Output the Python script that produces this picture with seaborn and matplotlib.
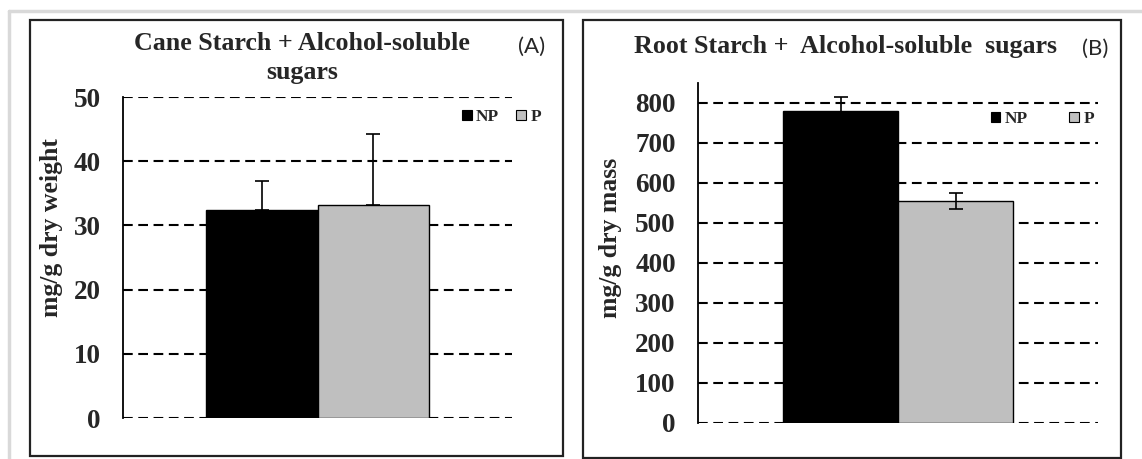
import matplotlib
matplotlib.use("Agg")
import matplotlib.pyplot as plt
import seaborn as sns
import pandas as pd
import numpy as np
from matplotlib.patches import Rectangle, Patch
from matplotlib.lines import Line2D

# ---------------- data ----------------
treatments = ["NP", "P"]
colors = ["#000000", "#bfbfbf"]

cane_values = [32.4, 33.1]
cane_err_up = [4.5, 11.2]

root_values = [780, 556]
root_err = [35, 20]

cane_ticks = [0, 10, 20, 30, 40, 50]
root_ticks = [0, 100, 200, 300, 400, 500, 600, 700, 800]

sns.set_style("white")
plt.rcParams["font.family"] = ["Liberation Serif", "DejaVu Serif"]
plt.rcParams["font.weight"] = "bold"
plt.rcParams["lines.scale_dashes"] = False

W, H = 1142, 459
fig = plt.figure(figsize=(W / 100, H / 100), dpi=100)

def fx(px):
    return px / W

def fy(py):
    return 1 - py / H

# light grey outer frame (top and left)
fig.add_artist(Line2D([fx(9), fx(9)], [fy(11), 0], color="#d9d9d9", lw=2.5, transform=fig.transFigure))
fig.add_artist(Line2D([fx(9), 1], [fy(11), fy(11)], color="#d9d9d9", lw=2.5, transform=fig.transFigure))

# panel boxes
for x0, x1, y0, y1 in [(30, 563, 20, 456), (583, 1121, 20, 458)]:
    fig.add_artist(Rectangle((fx(x0), fy(y1)), fx(x1) - fx(x0), fy(y0) - fy(y1),
                             fill=False, edgecolor="#222222", lw=1.6,
                             transform=fig.transFigure))

def make_panel(rect, values, ylim, ticks, ylabel, label_xy, err_lower, err_upper,
               bar_width, legend_anchor, colspacing):
    ax = fig.add_axes(rect)
    df = pd.DataFrame({"grp": [""] * len(treatments), "trt": treatments, "val": values})
    sns.barplot(data=df, x="grp", y="val", hue="trt", hue_order=treatments,
                palette=dict(zip(treatments, colors)), edgecolor="black",
                linewidth=1.0, width=bar_width, errorbar=None, saturation=1,
                ax=ax, legend=False, zorder=3)
    bars = [p for p in ax.patches if isinstance(p, Rectangle)][:len(treatments)]
    xs = [b.get_x() + b.get_width() / 2 for b in bars]
    hs = [b.get_height() for b in bars]
    ax.errorbar(xs, hs, yerr=[err_lower, err_upper], fmt="none", ecolor="black",
                elinewidth=1.2, capsize=5, capthick=1.2, zorder=4)
    ax.set_ylim(*ylim)
    ax.set_xlim(-0.5, 0.5)
    ax.set_yticks(ticks)
    ax.set_yticklabels([str(t) for t in ticks], fontsize=19.5, fontweight="bold")
    ax.tick_params(axis="y", length=0, pad=16)
    ax.set_xticks([])
    ax.set_xlabel("")
    ax.yaxis.grid(True, color="black", lw=1.5, linestyle=(0, (7, 4)))
    ax.set_axisbelow(True)
    for s in ["top", "right", "bottom"]:
        ax.spines[s].set_visible(False)
    ax.spines["left"].set_color("black")
    ax.spines["left"].set_linewidth(1.3)
    ax.set_ylabel(ylabel, fontsize=18.5, fontweight="bold", va="center")
    ax.yaxis.set_label_coords(*label_xy)
    handles = [Patch(facecolor=c, edgecolor="black", lw=0.8) for c in colors]
    ax.legend(handles, treatments, ncol=2, loc="center right",
              bbox_to_anchor=legend_anchor, bbox_transform=fig.transFigure,
              frameon=False, prop={"family": "Liberation Serif", "weight": "bold", "size": 12.5},
              handlelength=0.55, handleheight=0.55, handletextpad=0.25,
              columnspacing=colspacing, borderaxespad=0, borderpad=0)
    return ax

# Panel A
axA = make_panel([fx(123), fy(418), fx(512) - fx(123), fy(97) - fy(418)],
                 cane_values, (0, 50), cane_ticks, "mg/g dry weight",
                 (-0.185, 0.592), [0, 0], cane_err_up, 0.573,
                 (fx(541), fy(117)), 1.0)
fig.text(fx(302), fy(58), "Cane Starch + Alcohol-soluble\nsugars", ha="center", va="center",
         fontsize=18.7, fontweight="bold", linespacing=1.3)
fig.text(fx(532), fy(47), "(A)", ha="center", va="center", fontsize=16,
         family=["Lato", "DejaVu Sans"], fontweight="normal")

# Panel B
axB = make_panel([fx(698), fy(423), fx(1098) - fx(698), fy(83) - fy(423)],
                 root_values, (0, 850), root_ticks, "mg/g dry mass",
                 (-0.2175, 0.544), root_err, root_err, 0.575,
                 (fx(1094), fy(119)), 2.4)
fig.text(fx(845), fy(47), "Root Starch +  Alcohol-soluble  sugars", ha="center", va="center",
         fontsize=18.7, fontweight="bold")
fig.text(fx(1095), fy(49), "(B)", ha="center", va="center", fontsize=16,
         family=["Lato", "DejaVu Sans"], fontweight="normal")

fig.savefig("out.png", dpi=100)
